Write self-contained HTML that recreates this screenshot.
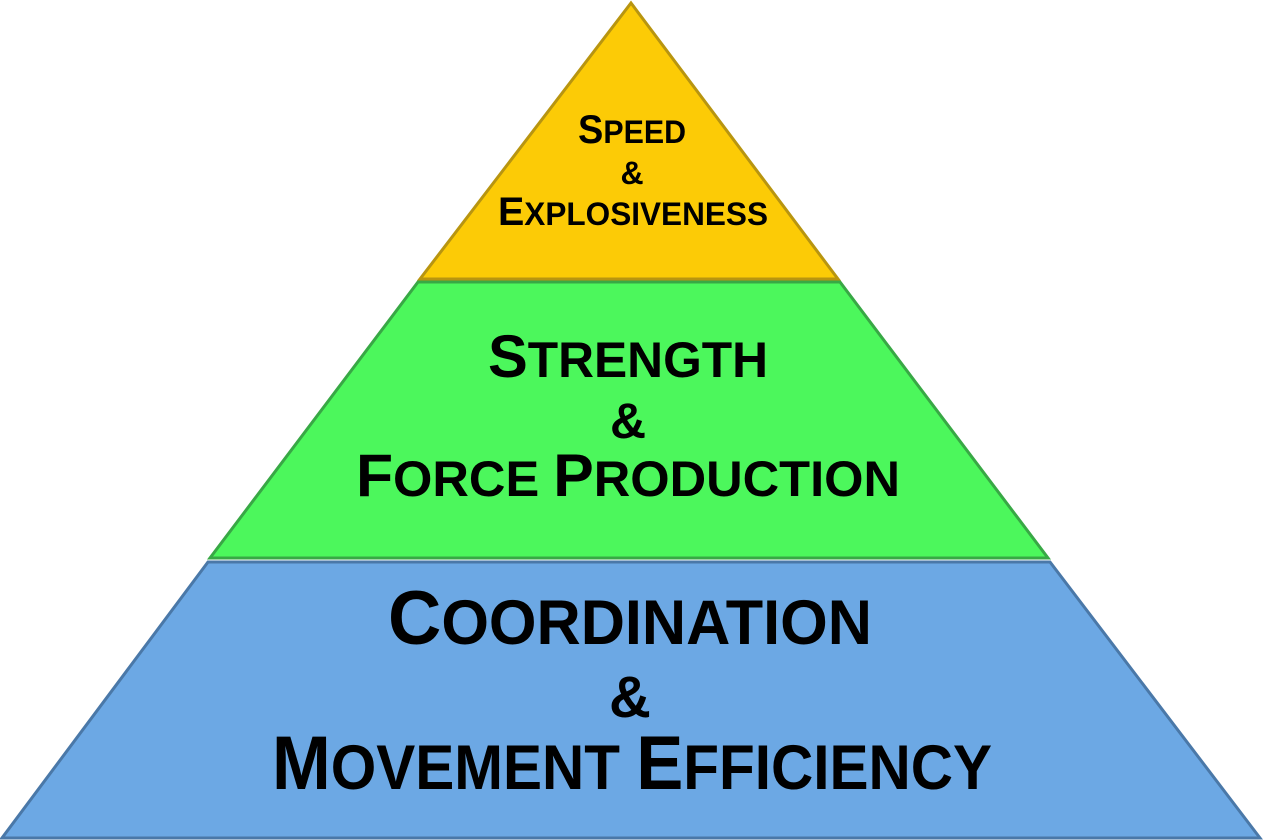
<!DOCTYPE html>
<html><head><meta charset="utf-8"><style>html,body{margin:0;padding:0;background:#fff;}svg{display:block}</style></head>
<body>
<svg width="1263" height="840" viewBox="0 0 1263 840" xmlns="http://www.w3.org/2000/svg" font-family="'Liberation Sans', sans-serif" font-weight="bold" fill="#000">
<polygon points="631,3 838,279 420,279" fill="#FCCB06" stroke="#B89510" stroke-width="3"/>
<polygon points="418,282 840,282 1048,558 210,558" fill="#4CF75C" stroke="#38A845" stroke-width="3"/>
<polygon points="208,562 1050,562 1260,838 2,838" fill="#6CA8E4" stroke="#4A78A8" stroke-width="3"/>

<text x="578" y="143" textLength="108" lengthAdjust="spacingAndGlyphs"><tspan font-size="40">S</tspan><tspan font-size="32">PEED</tspan></text>
<text x="632" y="184" font-size="32" text-anchor="middle">&amp;</text>
<text x="498" y="225" textLength="270" lengthAdjust="spacingAndGlyphs"><tspan font-size="40">E</tspan><tspan font-size="32">XPLOSIVENESS</tspan></text>

<text x="488" y="377" textLength="280" lengthAdjust="spacingAndGlyphs"><tspan font-size="60">S</tspan><tspan font-size="50">TRENGTH</tspan></text>
<text x="628" y="438" font-size="50" text-anchor="middle">&amp;</text>
<text x="356" y="496" textLength="544" lengthAdjust="spacingAndGlyphs"><tspan font-size="60">F</tspan><tspan font-size="50">ORCE </tspan><tspan font-size="60">P</tspan><tspan font-size="50">RODUCTION</tspan></text>

<text x="388" y="644" textLength="484" lengthAdjust="spacingAndGlyphs"><tspan font-size="76">C</tspan><tspan font-size="63">OORDINATION</tspan></text>
<text x="630" y="717" font-size="58" text-anchor="middle">&amp;</text>
<text x="272" y="789" textLength="720" lengthAdjust="spacingAndGlyphs"><tspan font-size="76">M</tspan><tspan font-size="63">OVEMENT </tspan><tspan font-size="76">E</tspan><tspan font-size="63">FFICIENCY</tspan></text>
</svg>
</body></html>
